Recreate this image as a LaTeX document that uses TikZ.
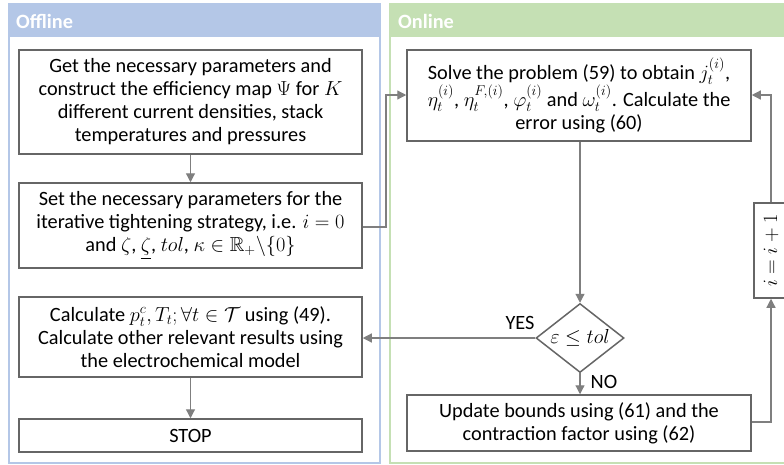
\RequirePackage{fix-cm}
\documentclass[tikz,border=0pt]{standalone}
\usepackage{amsmath,amssymb}
\usepackage{fontspec}
\setmainfont{Carlito}
\usetikzlibrary{arrows.meta,shapes.geometric}
\definecolor{offhead}{HTML}{B4C7E7}
\definecolor{onhead}{HTML}{C5E0B4}
\definecolor{boxline}{HTML}{666666}
\definecolor{arrline}{HTML}{7F7F7F}
\newcommand\myboxfont{\fontsize{20.3}{23}\selectfont\lineskiplimit=0pt\lineskip=1pt\relax}
\tikzset{
  txt/.style={font=\myboxfont},
  proc/.style={draw=boxline, line width=1.5pt, fill=white, rectangle, align=center, inner sep=0pt, txt},
  dec/.style={draw=boxline, line width=1.5pt, fill=white, diamond, aspect=1.28, inner sep=0pt, txt},
  conn/.style={draw=arrline, line width=1.2pt, -{Triangle[length=9pt,width=9pt]}},
  headtxt/.style={font=\fontsize{20.3}{23}\selectfont\bfseries, text=white, anchor=west, inner sep=0pt},
  lbl/.style={txt, inner sep=0pt}
}
\begin{document}
\begin{tikzpicture}[x=1pt,y=-1pt]
\useasboundingbox (0,0) rectangle (784,464);
% panels
\draw[offhead, line width=1.5pt, fill=white] (9,4) rectangle (380,463);
\fill[offhead] (9,4) rectangle (380,37);
\node[headtxt] (offt) at (16,21) {Offline};
\draw[onhead, line width=1.5pt, fill=white] (390,4) rectangle (800,463);
\fill[onhead] (390,4) rectangle (800,37);
\node[headtxt] (ont) at (398,21) {Online};
% nodes
\node[proc, minimum width=343pt, minimum height=104pt] (b1) at (190.5,102)
  {Get the necessary parameters and\\construct the efficiency map $\Psi$ for $K$\\different current densities, stack\\temperatures and pressures};
\node[proc, minimum width=343pt, minimum height=85pt] (b2) at (190.5,225.5)
  {Set the necessary parameters for the\\iterative tightening strategy, i.e. $i=0$\\and $\zeta$, $\underline{\zeta}$, $tol$, $\kappa\in\mathbb{R}_+\backslash\{0\}$};
\node[proc, minimum width=343pt, minimum height=80pt] (b3) at (190.5,337)
  {Calculate $p_t^c, T_t; \forall t\in\mathcal{T}$ using (49).\\Calculate other relevant results using\\the electrochemical model};
\node[proc, minimum width=343pt, minimum height=33pt] (b4) at (190.5,435.5) {STOP};
\node[proc, minimum width=344pt, minimum height=91pt] (b5) at (579,95.5)
  {Solve the problem (59) to obtain $j_t^{(i)}$,\\$\eta_t^{(i)}$, $\eta_t^{F,(i)}$, $\varphi_t^{(i)}$ and $\omega_t^{(i)}$. Calculate the\\error using (60)};
\node[dec, minimum width=88pt, minimum height=69pt] (d) at (580,338) {$\varepsilon\le tol$};
\node[proc, minimum width=344pt, minimum height=56pt] (b6) at (579,423)
  {Update bounds using (61) and the\\contraction factor using (62)};
\node[proc, rotate=90, minimum width=95pt, minimum height=34pt] (bi) at (771,250.5) {$i=i+1$};
% connectors
\draw[conn] (b1.south) -- (b2.north);
\draw[conn] (b3.south) -- (b4.north);
\draw[conn] (b2.east |- 0,227) -- (386,227) -- (386,95) -- (b5.west |- 0,95);
\draw[conn] (b5.south -| d.north) -- (d.north);
\draw[conn] (d.west) -- (b3.east |- d.west);
\draw[conn] (d.south) -- (b6.north -| d.south);
\draw[conn] (b6.east |- 0,422) -- (771,422) -- (bi.west);
\draw[conn] (bi.east) -- (771,95) -- (b5.east |- 0,95);
% labels
\node[lbl] (yes) at (520,323) {YES};
\node[lbl] (no) at (604,382) {NO};
\end{tikzpicture}
\end{document}
